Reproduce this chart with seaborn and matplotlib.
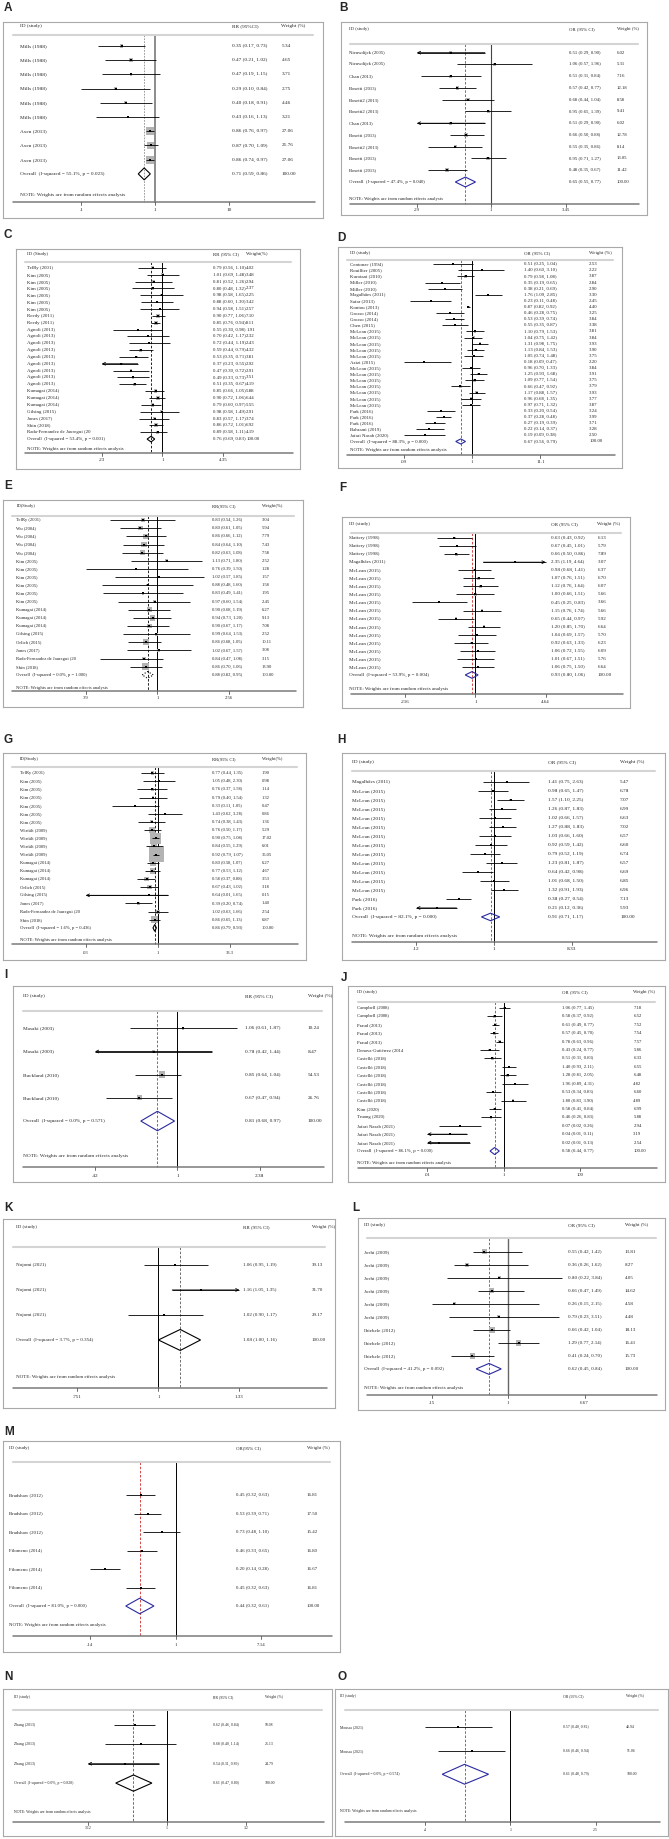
import matplotlib
matplotlib.use("Agg")
import matplotlib.pyplot as plt
from matplotlib.transforms import blended_transform_factory
from matplotlib.patches import Polygon
import numpy as np
import pandas as pd
import seaborn as sns

W, H = 669, 1839

# ---------------- data ----------------
# A
a_names = ['Mills (1988)'] * 6 + ['Axen (2013)'] * 3
a_est = [0.35, 0.47, 0.47, 0.29, 0.40, 0.43, 0.86, 0.87, 0.86]
a_lo = [0.17, 0.21, 0.19, 0.10, 0.18, 0.16, 0.76, 0.70, 0.74]
a_hi = [0.73, 1.02, 1.15, 0.84, 0.91, 1.13, 0.97, 1.09, 0.97]
a_wt = [5.34, 4.65, 3.71, 2.75, 4.46, 3.21, 27.06, 21.76, 27.06]
a_all = (0.71, 0.59, 0.86, 55.1, 0.023)
a_ticks = ['.1', '1', '10']
a_head = ['ID (study)', 'RR (95%CI)', 'Weight (%)']

# B
b_names = ['Nieuwdijck (2005)', 'Nieuwdijck (2005)', 'Chan (2013)', 'Bosetti (2013)',
           'Bosetti2 (2013)', 'Bosetti2 (2013)', 'Chan (2013)', 'Bosetti (2013)',
           'Bosetti2 (2013)', 'Bosetti (2013)', 'Bosetti (2013)']
b_est = [0.51, 1.06, 0.51, 0.57, 0.68, 0.95, 0.51, 0.66, 0.55, 0.95, 0.48]
b_lo = [0.2899, 0.57, 0.31, 0.42, 0.44, 0.65, 0.2899, 0.50, 0.35, 0.71, 0.35]
b_hi = [0.90, 1.96, 0.84, 0.77, 1.04, 1.39, 0.90, 0.88, 0.86, 1.27, 0.67]
b_wt = [6.02, 5.31, 7.16, 12.18, 8.58, 9.41, 6.02, 12.78, 8.14, 13.05, 11.42]
b_all = (0.65, 0.55, 0.77, 47.4, 0.040)
b_ticks = ['.29', '1', '3.45']
b_head = ['ID (study)', 'OR (95% CI)', 'Weight (%)']

# C
c_names = (['TelRy (2001)'] + ['Kim (2005)'] * 6 + ['Reedy (2011)'] * 2 + ['Agnoli (2013)'] * 9
           + ['Kumagai (2014)'] * 3 + ['Gilsing (2015)', 'Jones (2017)', 'Shin (2018)',
                                       'Rada-Fernandez de Jauregui (20'])
c_est = [0.79, 1.01, 0.81, 0.80, 0.98, 0.88, 0.94, 0.90, 0.85, 0.55, 0.70, 0.72, 0.59, 0.53,
         0.37, 0.47, 0.49, 0.51, 0.85, 0.90, 0.79, 0.98, 0.83, 0.86, 0.89]
c_lo = [0.56, 0.69, 0.52, 0.48, 0.58, 0.60, 0.58, 0.77, 0.76, 0.30, 0.42, 0.44, 0.44, 0.35,
        0.2299, 0.30, 0.33, 0.35, 0.66, 0.72, 0.60, 0.58, 0.57, 0.72, 0.58]
c_hi = [1.10, 1.48, 1.26, 1.32, 1.65, 1.30, 1.51, 1.06, 0.94, 0.98, 1.17, 1.19, 0.79, 0.71,
        0.55, 0.72, 0.73, 0.67, 1.05, 1.06, 0.97, 1.49, 1.17, 1.01, 1.11]
c_wt = [4.02, 3.48, 2.94, 2.37, 2.25, 3.42, 2.57, 7.10, 8.11, 1.91, 2.32, 2.43, 4.32, 3.81,
        2.92, 2.91, 3.51, 4.19, 5.88, 6.44, 5.55, 2.91, 3.74, 6.92, 4.19]
c_all = (0.76, 0.69, 0.83, 53.4, 0.001)
c_ticks = ['.23', '1', '4.35']
c_head = ['ID (Study)', 'RR (95% CI)', 'Weight(%)']

# D
d_names = (['Centonze (1994)', 'Rouillier (2005)', 'Kurotani (2010)', 'Miller (2010)',
            'Miller (2010)', 'Magalhães (2011)', 'Safar (2013)', 'Kontou (2013)',
            'Grosso (2014)', 'Grosso (2014)', 'Chen (2015)'] + ['McLean (2015)'] * 5
           + ['Azizi (2015)'] + ['McLean (2015)'] * 7 + ['Park (2016)'] * 3
           + ['Bahrami (2019)', 'Jafari Nasab (2020)'])
d_est = [0.51, 1.40, 0.79, 0.35, 0.38, 1.76, 0.23, 0.87, 0.46, 0.53, 0.55, 1.10, 1.04, 1.31,
         1.13, 1.05, 0.18, 0.96, 1.25, 1.09, 0.66, 1.17, 0.96, 0.97, 0.33, 0.37, 0.27, 0.22, 0.19]
d_lo = [0.25, 0.60, 0.58, 0.19, 0.21, 1.09, 0.11, 0.82, 0.28, 0.39, 0.35, 0.79, 0.75, 0.98,
        0.84, 0.74, 0.09, 0.70, 0.93, 0.77, 0.47, 0.88, 0.68, 0.71, 0.20, 0.28, 0.19, 0.14, 0.09]
d_hi = [1.04, 3.10, 1.08, 0.65, 0.69, 2.85, 0.48, 0.92, 0.75, 0.74, 0.87, 1.53, 1.42, 1.75,
        1.53, 1.48, 0.47, 1.33, 1.68, 1.54, 0.92, 1.57, 1.35, 1.32, 0.54, 0.48, 0.39, 0.37, 0.38]
d_wt = [2.53, 2.22, 3.87, 2.84, 2.90, 3.30, 2.45, 4.40, 3.25, 3.84, 3.38, 3.81, 3.84, 3.93,
        3.90, 3.75, 2.20, 3.84, 3.91, 3.75, 3.79, 3.93, 3.77, 3.87, 3.24, 3.99, 3.71, 3.28, 2.50]
d_all = (0.67, 0.56, 0.79, 88.3, 0.000)
d_ticks = ['.09', '1', '11.1']
d_head = ['ID (study)', 'OR (95% CI)', 'Weight (%)']

# E
e_names = (['TelRy (2001)'] + ['Wu (2004)'] * 4 + ['Kim (2005)'] * 6 + ['Kumagai (2014)'] * 3
           + ['Gilsing (2015)', 'Orlich (2015)', 'Jones (2017)',
              'Rada-Fernandez de Jauregui (20', 'Shin (2018)'])
e_est = [0.83, 0.80, 0.86, 0.84, 0.82, 1.13, 0.76, 1.02, 0.88, 0.83, 0.97, 0.90, 0.94, 0.90,
         0.99, 0.86, 1.02, 0.84, 0.86]
e_lo = [0.54, 0.61, 0.66, 0.64, 0.63, 0.71, 0.39, 0.57, 0.48, 0.49, 0.60, 0.68, 0.73, 0.67,
        0.64, 0.68, 0.67, 0.47, 0.70]
e_hi = [1.26, 1.05, 1.12, 1.10, 1.08, 1.80, 1.50, 1.85, 1.60, 1.41, 1.54, 1.19, 1.20, 1.17,
        1.53, 1.05, 1.57, 1.08, 1.06]
e_wt = [3.04, 5.94, 7.79, 7.43, 7.58, 2.52, 1.28, 1.57, 1.58, 1.95, 2.45, 6.27, 9.13, 7.08,
        2.52, 10.11, 3.08, 3.15, 13.90]
e_all = (0.88, 0.82, 0.95, 0.0, 1.000)
e_ticks = ['.39', '1', '2.56']
e_head = ['ID(Study)', 'RR(95% CI)', 'Weight(%)']

# F
f_names = ['Slattery (1998)'] * 3 + ['Magalhães (2011)'] + ['McLean (2015)'] * 13
f_est = [0.63, 0.67, 0.66, 2.35, 0.98, 1.07, 1.12, 1.00, 0.45, 1.15, 0.65, 1.20, 1.04, 0.92,
         1.06, 1.01, 1.06]
f_lo = [0.43, 0.45, 0.50, 1.19, 0.68, 0.76, 0.76, 0.66, 0.25, 0.76, 0.44, 0.85, 0.69, 0.63,
        0.72, 0.67, 0.75]
f_hi = [0.92, 1.01, 0.86, 4.6401, 1.41, 1.51, 1.64, 1.51, 0.83, 1.74, 0.97, 1.70, 1.57, 1.33,
        1.55, 1.51, 1.50]
f_wt = [6.13, 5.79, 7.89, 3.07, 6.37, 6.70, 6.07, 5.66, 3.66, 5.66, 5.92, 6.64, 5.70, 6.23,
        6.09, 5.76, 6.64]
f_all = (0.93, 0.80, 1.06, 53.9, 0.004)
f_ticks = ['.216', '1', '4.64']
f_head = ['ID (study)', 'OR (95% CI)', 'Weight (%)']

# G
g_names = (['TelRy (2001)'] + ['Kim (2005)'] * 6 + ['Wirfält (2009)'] * 4 + ['Kumagai (2014)'] * 3
           + ['Orlich (2015)', 'Gilsing (2015)', 'Jones (2017)',
              'Rada-Fernandez de Jauregui (20', 'Shin (2018)'])
g_est = [0.77, 1.05, 0.76, 0.79, 0.33, 1.43, 0.74, 0.76, 0.90, 0.84, 0.92, 0.80, 0.77, 0.58,
         0.67, 0.64, 0.39, 1.02, 0.86]
g_lo = [0.44, 0.48, 0.37, 0.40, 0.11, 0.62, 0.38, 0.50, 0.75, 0.55, 0.79, 0.58, 0.53, 0.37,
        0.43, 0.01, 0.20, 0.63, 0.65]
g_hi = [1.35, 2.30, 1.58, 1.54, 1.05, 3.28, 1.43, 1.17, 1.08, 1.29, 1.07, 1.07, 1.12, 0.88,
        1.02, 1.65, 0.74, 1.66, 1.13]
g_wt = [1.90, 0.98, 1.14, 1.32, 0.47, 0.86, 1.36, 5.29, 17.02, 6.01, 35.05, 6.27, 4.67, 3.53,
        3.18, 0.15, 1.40, 2.54, 6.87]
g_all = (0.86, 0.79, 0.93, 1.6, 0.436)
g_ticks = ['.03', '1', '33.3']
g_head = ['ID(Study)', 'RR(95% CI)', 'Weight(%)']

# H
h_names = ['Magalhães (2011)'] + ['McLean (2015)'] * 12 + ['Park (2016)'] * 2
h_est = [1.41, 0.98, 1.57, 1.26, 1.02, 1.27, 1.03, 0.92, 0.79, 1.23, 0.64, 1.01, 1.32, 0.38, 0.21]
h_lo = [0.75, 0.65, 1.10, 0.87, 0.66, 0.88, 0.66, 0.59, 0.52, 0.81, 0.42, 0.68, 0.91, 0.27, 0.1199]
h_hi = [2.63, 1.47, 2.25, 1.83, 1.57, 1.83, 1.60, 1.42, 1.19, 1.87, 0.98, 1.50, 1.93, 0.54, 0.36]
h_wt = [5.47, 6.78, 7.07, 6.99, 6.63, 7.02, 6.57, 6.60, 6.74, 6.57, 6.69, 6.85, 6.96, 7.13, 5.93]
h_all = (0.91, 0.71, 1.17, 82.1, 0.000)
h_ticks = ['.12', '1', '8.33']
h_head = ['ID (study)', 'OR (95% CI)', 'Weight (%)']

# I
i_names = ['Masaki (2003)'] * 2 + ['Buckland (2010)'] * 2
i_est = [1.06, 0.78, 0.85, 0.67]
i_lo = [0.61, 0.4199, 0.64, 0.47]
i_hi = [1.87, 1.44, 1.04, 0.94]
i_wt = [10.24, 8.47, 54.53, 26.76]
i_all = (0.81, 0.68, 0.97, 0.0, 0.571)
i_ticks = ['.42', '1', '2.38']
i_head = ['ID (study)', 'RR (95% CI)', 'Weight (%)']

# J
j_names = (['Campbell (2008)'] * 2 + ['Praud (2013)'] * 3 + ['Denova-Gutiérrez (2014']
           + ['Castelló (2018)'] * 6 + ['Kim (2020)', 'Truong (2020)'] + ['Jafari Nasab (2021)'] * 3)
j_est = [1.06, 0.58, 0.61, 0.57, 0.78, 0.43, 0.51, 1.40, 1.28, 1.96, 0.53, 1.80, 0.58, 0.46,
         0.07, 0.04, 0.02]
j_lo = [0.77, 0.37, 0.49, 0.45, 0.63, 0.24, 0.31, 0.93, 0.81, 0.89, 0.34, 0.83, 0.41, 0.26,
        0.02, 0.0099, 0.0099]
j_hi = [1.45, 0.92, 0.77, 0.70, 0.96, 0.77, 0.83, 2.11, 2.05, 4.31, 0.83, 3.90, 0.84, 0.83,
        0.26, 0.11, 0.13]
j_wt = [7.18, 6.52, 7.52, 7.54, 7.57, 5.86, 6.33, 6.55, 6.48, 4.82, 6.60, 4.89, 6.99, 5.88,
        2.94, 3.19, 2.54]
j_all = (0.58, 0.44, 0.77, 86.1, 0.000)
j_ticks = ['.01', '1', '100']
j_head = ['ID (study)', 'OR (95% CI)', 'Weight (%)']

# K
k_names = ['Nojomi (2021)'] * 3
k_est = [1.06, 1.16, 1.02]
k_lo = [0.95, 1.05, 0.90]
k_hi = [1.19, 1.35, 1.17]
k_wt = [39.13, 31.70, 29.17]
k_all = (1.08, 1.00, 1.16, 3.7, 0.354)
k_ticks = ['.751', '1', '1.33']
k_head = ['ID (study)', 'RR (95% CI)', 'Weight (%)']

# L
l_names = ['Joshi (2009)'] * 6 + ['Ibiebele (2012)'] * 3
l_est = [0.55, 0.36, 0.80, 0.66, 0.26, 0.79, 0.66, 1.29, 0.41]
l_lo = [0.42, 0.26, 0.22, 0.47, 0.15, 0.23, 0.42, 0.77, 0.24]
l_hi = [1.42, 1.62, 3.84, 1.49, 2.15, 3.51, 1.04, 2.14, 0.70]
l_wt = [13.81, 8.27, 4.05, 14.62, 4.58, 4.48, 18.13, 16.41, 15.73]
l_all = (0.62, 0.45, 0.84, 41.2, 0.092)
l_ticks = ['.15', '1', '6.67']
l_head = ['ID (study)', 'OR (95% CI)', 'Weight (%)']

# M
m_names = ['Bradshaw (2012)'] * 3 + ['Filomeno (2014)'] * 3
m_est = [0.45, 0.53, 0.73, 0.46, 0.20, 0.45]
m_lo = [0.32, 0.39, 0.48, 0.33, 0.14, 0.32]
m_hi = [0.63, 0.71, 1.10, 0.65, 0.28, 0.63]
m_wt = [16.81, 17.50, 15.42, 16.80, 16.67, 16.81]
m_all = (0.44, 0.32, 0.61, 81.0, 0.000)
m_ticks = ['.14', '1', '7.14']
m_head = ['ID (study)', 'OR(95% CI)', 'Weight (%)']

# N
n_names = ['Zhang (2013)'] * 3
n_est = [0.62, 0.68, 0.54]
n_lo = [0.46, 0.40, 0.31]
n_hi = [0.84, 1.14, 0.89]
n_wt = [50.08, 25.13, 24.79]
n_all = (0.61, 0.47, 0.80, 0.0, 0.828)
n_ticks = ['.312', '1', '3.2']
n_head = ['ID (study)', 'RR (95% CI)', 'Weight (%)']

# O
o_names = ['Moussa (2021)'] * 2
o_est = [0.57, 0.66]
o_lo = [0.40, 0.46]
o_hi = [0.82, 0.94]
o_wt = [48.94, 51.06]
o_all = (0.61, 0.48, 0.79, 0.0, 0.574)
o_ticks = ['.4', '1', '2.5']
o_head = ['ID (study)', 'OR (95% CI)', 'Weight (%)']

DATA = {
    'A': (a_names, a_est, a_lo, a_hi, a_wt, a_all, a_ticks, a_head),
    'B': (b_names, b_est, b_lo, b_hi, b_wt, b_all, b_ticks, b_head),
    'C': (c_names, c_est, c_lo, c_hi, c_wt, c_all, c_ticks, c_head),
    'D': (d_names, d_est, d_lo, d_hi, d_wt, d_all, d_ticks, d_head),
    'E': (e_names, e_est, e_lo, e_hi, e_wt, e_all, e_ticks, e_head),
    'F': (f_names, f_est, f_lo, f_hi, f_wt, f_all, f_ticks, f_head),
    'G': (g_names, g_est, g_lo, g_hi, g_wt, g_all, g_ticks, g_head),
    'H': (h_names, h_est, h_lo, h_hi, h_wt, h_all, h_ticks, h_head),
    'I': (i_names, i_est, i_lo, i_hi, i_wt, i_all, i_ticks, i_head),
    'J': (j_names, j_est, j_lo, j_hi, j_wt, j_all, j_ticks, j_head),
    'K': (k_names, k_est, k_lo, k_hi, k_wt, k_all, k_ticks, k_head),
    'L': (l_names, l_est, l_lo, l_hi, l_wt, l_all, l_ticks, l_head),
    'M': (m_names, m_est, m_lo, m_hi, m_wt, m_all, m_ticks, m_head),
    'N': (n_names, n_est, n_lo, n_hi, n_wt, n_all, n_ticks, n_head),
    'O': (o_names, o_est, o_lo, o_hi, o_wt, o_all, o_ticks, o_head),
}

# ---------------- layout (pixels / axes fractions) ----------------
# box: x0, x1, y0, y1 px ; zone: fraction of box width spanned by the tick range
# cols: name, ci, weight x ; rows: header, header line, first row, overall, note, axis, tick labels
LAYOUT = {
    'A': dict(box=(3, 323, 22, 218), zone=(.245, .706), cols=(.052, .716, .87),
              rows=(.022, .064, .122, .775, .885, .919, .961), fs=3.8, lab=(4, 8)),
    'B': dict(box=(341, 647, 22, 215), zone=(.248, .734), cols=(.025, .744, .902),
              rows=(.038, .112, .159, .829, .919, .945, .975), fs=3.4, lab=(339, 8)),
    'C': dict(box=(16, 300, 249, 469), zone=(.302, .729), cols=(.039, .694, .81),
              rows=(.023, .059, .086, .864, .909, .927, .961), fs=3.5, lab=(4, 235)),
    'D': dict(box=(338, 622, 247, 468), zone=(.232, .713), cols=(.043, .654, .884),
              rows=(.026, .057, .078, .880, .917, .940, .974), fs=3.5, lab=(337, 238)),
    'E': dict(box=(3, 303, 500, 707), zone=(.276, .752), cols=(.045, .698, .863),
              rows=(.029, .077, .097, .845, .908, .923, .957), fs=3.3, lab=(4, 486)),
    'F': dict(box=(342, 630, 517, 708), zone=(.220, .707), cols=(.023, .725, .887),
              rows=(.037, .084, .11, .827, .90, .927, .969), fs=3.6, lab=(339, 488)),
    'G': dict(box=(3, 306, 753, 960), zone=(.273, .749), cols=(.055, .691, .854),
              rows=(.029, .068, .097, .845, .903, .923, .966), fs=3.3, lab=(4, 740)),
    'H': dict(box=(342, 665, 753, 960), zone=(.230, .711), cols=(.031, .638, .861),
              rows=(.043, .087, .14, .792, .884, .913, .947), fs=3.8, lab=(337, 740)),
    'I': dict(box=(13, 332, 986, 1182), zone=(.257, .774), cols=(.03, .727, .925),
              rows=(.05, .128, .216, .689, .867, .923, .969), fs=3.8, lab=(4, 975)),
    'J': dict(box=(348, 665, 986, 1182), zone=(.25, .732), cols=(.029, .674, .90),
              rows=(.031, .082, .112, .842, .903, .929, .964), fs=3.4, lab=(341, 978)),
    'K': dict(box=(3, 335, 1219, 1408), zone=(.223, .712), cols=(.038, .723, .93),
              rows=(.044, .149, .243, .64, .836, .894, .94), fs=3.6, lab=(4, 1208)),
    'L': dict(box=(358, 665, 1218, 1410), zone=(.241, .738), cols=(.021, .685, .869),
              rows=(.036, .104, .175, .786, .885, .92, .962), fs=3.6, lab=(352, 1208)),
    'M': dict(box=(3, 340, 1441, 1652), zone=(.257, .767), cols=(.017, .69, .902),
              rows=(.033, .10, .256, .782, .872, .925, .967), fs=3.5, lab=(4, 1432)),
    'N': dict(box=(3, 332, 1689, 1836), zone=(.258, .739), cols=(.033, .638, .795),
              rows=(.054, .143, .245, .64, .837, .905, .946), fs=2.8, lab=(4, 1677)),
    'O': dict(box=(335, 668, 1689, 1836), zone=(.271, .783), cols=(.015, .684, .875),
              rows=(.05, .143, .259, .58, .83, .905, .96), fs=2.8, lab=(337, 1677)),
}

RED, BLUE = '#cc2b2b', '#2a2aa0'
# null line colour/width, overall line colour/dash, diamond colour/linestyle, box scale
STYLE = {
    'A': ('#8c8c8c', 1.4, '#8c8c8c', (0, (2, 1.5)), 'black', '-', 1.2),
    'B': ('#444444', 0.8, RED, (0, (3, 2)), BLUE, '-', 0.6),
    'C': ('black', 0.7, 'black', (0, (3, 2)), 'black', '-', 1.1),
    'D': ('black', 0.7, RED, (0, (3, 2)), BLUE, '-', 0.8),
    'E': ('black', 0.7, 'black', (0, (3, 2)), 'black', ':', 1.8),
    'F': ('black', 0.7, RED, (0, (3, 2)), BLUE, '-', 0.5),
    'G': ('black', 0.7, 'black', (0, (3, 2)), 'black', '-', 3.4),
    'H': ('black', 0.7, RED, (0, (3, 2)), BLUE, '-', 0.3),
    'I': ('black', 0.7, RED, (0, (3, 2)), BLUE, '-', 0.45),
    'J': ('black', 0.7, RED, (0, (3, 2)), BLUE, '-', 0.5),
    'K': ('black', 0.7, '#555555', (0, (3, 2)), 'black', '-', 0.05),
    'L': ('#666666', 1.0, RED, (0, (3, 2)), BLUE, '-', 1.0),
    'M': ('black', 0.7, RED, (0, (3, 2)), BLUE, '-', 0.1),
    'N': ('black', 0.7, '#555555', (0, (3, 2)), 'black', '-', 0.05),
    'O': ('black', 0.7, RED, (0, (3, 2)), BLUE, '-', 0.05),
}

sns.set_theme(style='white')
plt.rcParams['font.family'] = ['Liberation Serif', 'DejaVu Serif']


def forest(fig, key):
    names, est, lo, hi, wt, overall, ticks, head = DATA[key]
    lay = LAYOUT[key]
    null_c, null_w, ref_c, ref_ls, dia_c, dia_ls, bscale = STYLE[key]
    x0, x1, y0, y1 = lay['box']
    fs = lay['fs']
    ax = fig.add_axes([x0 / W, 1 - y1 / H, (x1 - x0) / W, (y1 - y0) / H])
    tr = blended_transform_factory(ax.transAxes, ax.transData)

    tv = [float(t) for t in ticks]
    L, R = np.log10(tv[0]), np.log10(tv[-1])
    f0, f1 = lay['zone']
    span = (R - L) / (f1 - f0)
    left = L - f0 * span

    hy, hl, fy, oy, ny, axy, ty = lay['rows']
    n = len(names)
    ys = np.linspace(fy, oy, n + 1)
    dy = ys[1] - ys[0]
    df = pd.DataFrame({'study': names, 'est': est, 'lo': lo, 'hi': hi, 'wt': wt, 'y': ys[:n]})

    # header
    cx_name, cx_ci, cx_wt = lay['cols']
    ax.text(cx_name, hy, head[0], transform=tr, fontsize=fs, va='center')
    ax.text(cx_ci, hy, head[1], transform=tr, fontsize=fs, va='center')
    ax.text(cx_wt, hy, head[2], transform=tr, fontsize=fs, va='center')
    ax.plot([0.03, 0.97], [hl, hl], transform=tr, color='#d4d4d4', lw=1.5)

    # reference lines
    o_est, o_lo, o_hi, i2, p = overall
    ax.plot([1, 1], [hl, axy], color=null_c, lw=null_w, zorder=1)
    ax.plot([o_est, o_est], [hl, axy], color=ref_c, lw=0.6, ls=ref_ls, zorder=1)

    # weight boxes and point estimates
    wmax = max(wt)
    sns.scatterplot(data=df, x='est', y='y', size='wt', sizes=(0, bscale * wmax),
                    size_norm=(0, wmax), marker='s', color='#b3b3b3', linewidth=0,
                    legend=False, ax=ax, zorder=2)
    arrow = dict(arrowstyle='->', lw=0.6, color='black', shrinkA=0, shrinkB=0, mutation_scale=5)
    for _, r in df.iterrows():
        a, b = max(r.lo, tv[0]), min(r.hi, tv[-1])
        ax.plot([a, b], [r.y, r.y], color='black', lw=0.6, zorder=3, solid_capstyle='butt')
        if r.lo < tv[0]:
            ax.annotate('', xy=(tv[0], r.y), xytext=(b, r.y), arrowprops=arrow, zorder=3)
        if r.hi > tv[-1]:
            ax.annotate('', xy=(tv[-1], r.y), xytext=(a, r.y), arrowprops=arrow, zorder=3)
        ax.text(cx_name, r.y, r.study, transform=tr, fontsize=fs, va='center')
        ax.text(cx_ci, r.y, f'{r.est:.2f} ({r.lo:.2f}, {r.hi:.2f})', transform=tr,
                fontsize=fs, va='center')
        ax.text(cx_wt, r.y, f'{r.wt:.2f}', transform=tr, fontsize=fs, va='center')
    sns.scatterplot(data=df, x='est', y='y', marker='s', s=2.5, color='black',
                    linewidth=0, legend=False, ax=ax, zorder=4)

    # overall diamond
    hh = 0.42 * dy
    ax.add_patch(Polygon([(o_lo, oy), (o_est, oy - hh), (o_hi, oy), (o_est, oy + hh)],
                         closed=True, fill=False, edgecolor=dia_c, lw=0.8, ls=dia_ls, zorder=5))
    ax.text(cx_name, oy, f'Overall  (I-squared = {i2:.1f}%, p = {p:.3f})', transform=tr,
            fontsize=fs, va='center')
    ax.text(cx_ci, oy, f'{o_est:.2f} ({o_lo:.2f}, {o_hi:.2f})', transform=tr,
            fontsize=fs, va='center')
    ax.text(cx_wt, oy, '100.00', transform=tr, fontsize=fs, va='center')
    ax.text(cx_name, ny, 'NOTE: Weights are from random effects analysis', transform=tr,
            fontsize=fs, va='center')

    # bottom axis
    ax.plot([0.03, 0.975], [axy, axy], transform=tr, color='#7a7a7a', lw=1.1)
    tk = 3.0 / (y1 - y0)
    for t, lab in zip(tv, ticks):
        ax.plot([t, t], [axy, axy + tk], color='#555555', lw=0.6)
        ax.text(t, ty, lab, fontsize=fs, ha='center', va='center')

    ax.set_xscale('log')
    ax.set_xlim(10 ** left, 10 ** (left + span))
    ax.set_ylim(1, 0)
    ax.set_xlabel('')
    ax.set_ylabel('')
    ax.tick_params(which='both', bottom=False, left=False, labelbottom=False, labelleft=False)
    for s in ax.spines.values():
        s.set_color('#a9a9a9')
        s.set_linewidth(0.8)

    lx, ly = lay['lab']
    fig.text(lx / W, 1 - ly / H, key, fontsize=8.5, fontweight='bold',
             family=['Liberation Sans', 'DejaVu Sans'], ha='left', va='center')


fig = plt.figure(figsize=(W / 100, H / 100), dpi=100)
fig.patch.set_facecolor('white')
for key in DATA:
    forest(fig, key)
fig.savefig('out.png', dpi=100)
